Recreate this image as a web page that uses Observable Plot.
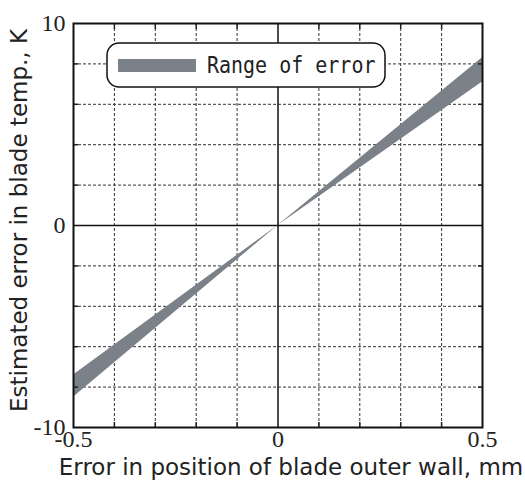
<!DOCTYPE html>
<html><head><meta charset="utf-8">
<script src="https://cdn.jsdelivr.net/npm/d3@7"></script>
<script src="https://cdn.jsdelivr.net/npm/@observablehq/plot@0.6"></script>
<style>body{margin:0;background:#fff}</style>
</head><body><div id="chart"></div>
<script>
const positionError = [-0.5, 0, 0.5];
const tempErrorUpper = [-7.4, 0, 8.3];
const tempErrorLower = [-8.5, 0, 7.1];
const xTickLabels = [-0.5, 0, 0.5];
const yTickLabels = [-10, 0, 10];
const xGrid = [-0.4, -0.3, -0.2, -0.1, 0.1, 0.2, 0.3, 0.4];
const yGrid = [-8, -6, -4, -2, 2, 4, 6, 8];
const legendLabel = "Range of error";
const xLabel = "Error in position of blade outer wall, mm";
const yLabel = "Estimated error in blade temp., K";

const bandColor = "#7b8188";
const band = positionError.map((x, i) => ({x, y1: tempErrorLower[i], y2: tempErrorUpper[i]}));
const serif = "Liberation Serif, Times New Roman, serif";
const sans = "DejaVu Sans, sans-serif";

function legendMark(index, scales, values, dims) {
  const g = d3.create("svg:g");
  const x0 = 107, y0 = 43;
  g.append("rect").attr("x", x0).attr("y", y0).attr("width", 278).attr("height", 44)
    .attr("rx", 12).attr("fill", "#fff").attr("stroke", "#111").attr("stroke-width", 1.5);
  g.append("rect").attr("x", x0 + 11).attr("y", y0 + 16).attr("width", 78).attr("height", 13)
    .attr("fill", bandColor);
  g.append("text").attr("x", x0 + 100).attr("y", y0 + 30)
    .attr("text-anchor", "start")
    .attr("font-family", "DejaVu Sans Mono, monospace").attr("font-size", 20)
    .attr("transform", `translate(0,${-(y0 + 30) * 0.12}) scale(1,1.12)`)
    .attr("fill", "#222").text(legendLabel);
  return g.node();
}

const chart = Plot.plot({
  width: 525,
  height: 485,
  marginLeft: 73,
  marginRight: 43,
  marginTop: 23,
  marginBottom: 58,
  style: {background: "#fff", color: "#222"},
  x: {domain: [-0.5, 0.5]},
  y: {domain: [-10, 10]},
  marks: [
    Plot.gridX(xGrid, {stroke: "#333", strokeOpacity: 1, strokeDasharray: "3,2", strokeWidth: 1}),
    Plot.gridY(yGrid, {stroke: "#333", strokeOpacity: 1, strokeDasharray: "3,2", strokeWidth: 1}),
    Plot.ruleX([0], {stroke: "#111", strokeWidth: 1.5}),
    Plot.ruleY([0], {stroke: "#111", strokeWidth: 1.5}),
    Plot.areaY(band, {x: "x", y1: "y1", y2: "y2", fill: bandColor}),
    Plot.axisX(xGrid, {anchor: "bottom", tickSize: -5, text: null, strokeWidth: 1.5, label: null}),
    Plot.axisX(xGrid, {anchor: "top", tickSize: -5, text: null, strokeWidth: 1.5, label: null}),
    Plot.axisY(yGrid, {anchor: "left", tickSize: -5, text: null, strokeWidth: 1.5, label: null}),
    Plot.axisY(yGrid, {anchor: "right", tickSize: -5, text: null, strokeWidth: 1.5, label: null}),
    Plot.axisX(xTickLabels, {anchor: "bottom", tickSize: 0, tickPadding: 2, fontSize: 24, fontFamily: serif,
      tickFormat: d => String(d), label: null}),
    Plot.axisY(yTickLabels, {anchor: "left", tickSize: 0, tickPadding: 8, fontSize: 24, fontFamily: serif,
      tickFormat: d => String(d), label: null}),
    Plot.frame({stroke: "#111", strokeWidth: 2}),
    legendMark,
    Plot.text([xLabel], {frameAnchor: "bottom", dy: 40, dx: 13, lineAnchor: "middle", textAnchor: "middle",
      fontSize: 23, fontFamily: sans, fill: "#222"}),
    Plot.text([yLabel], {frameAnchor: "left", rotate: -90, dx: -54, dy: -5, textAnchor: "middle",
      lineAnchor: "middle", fontSize: 23, fontFamily: sans, fill: "#222"})
  ]
});
document.getElementById("chart").append(chart);
</script>
</body></html>
